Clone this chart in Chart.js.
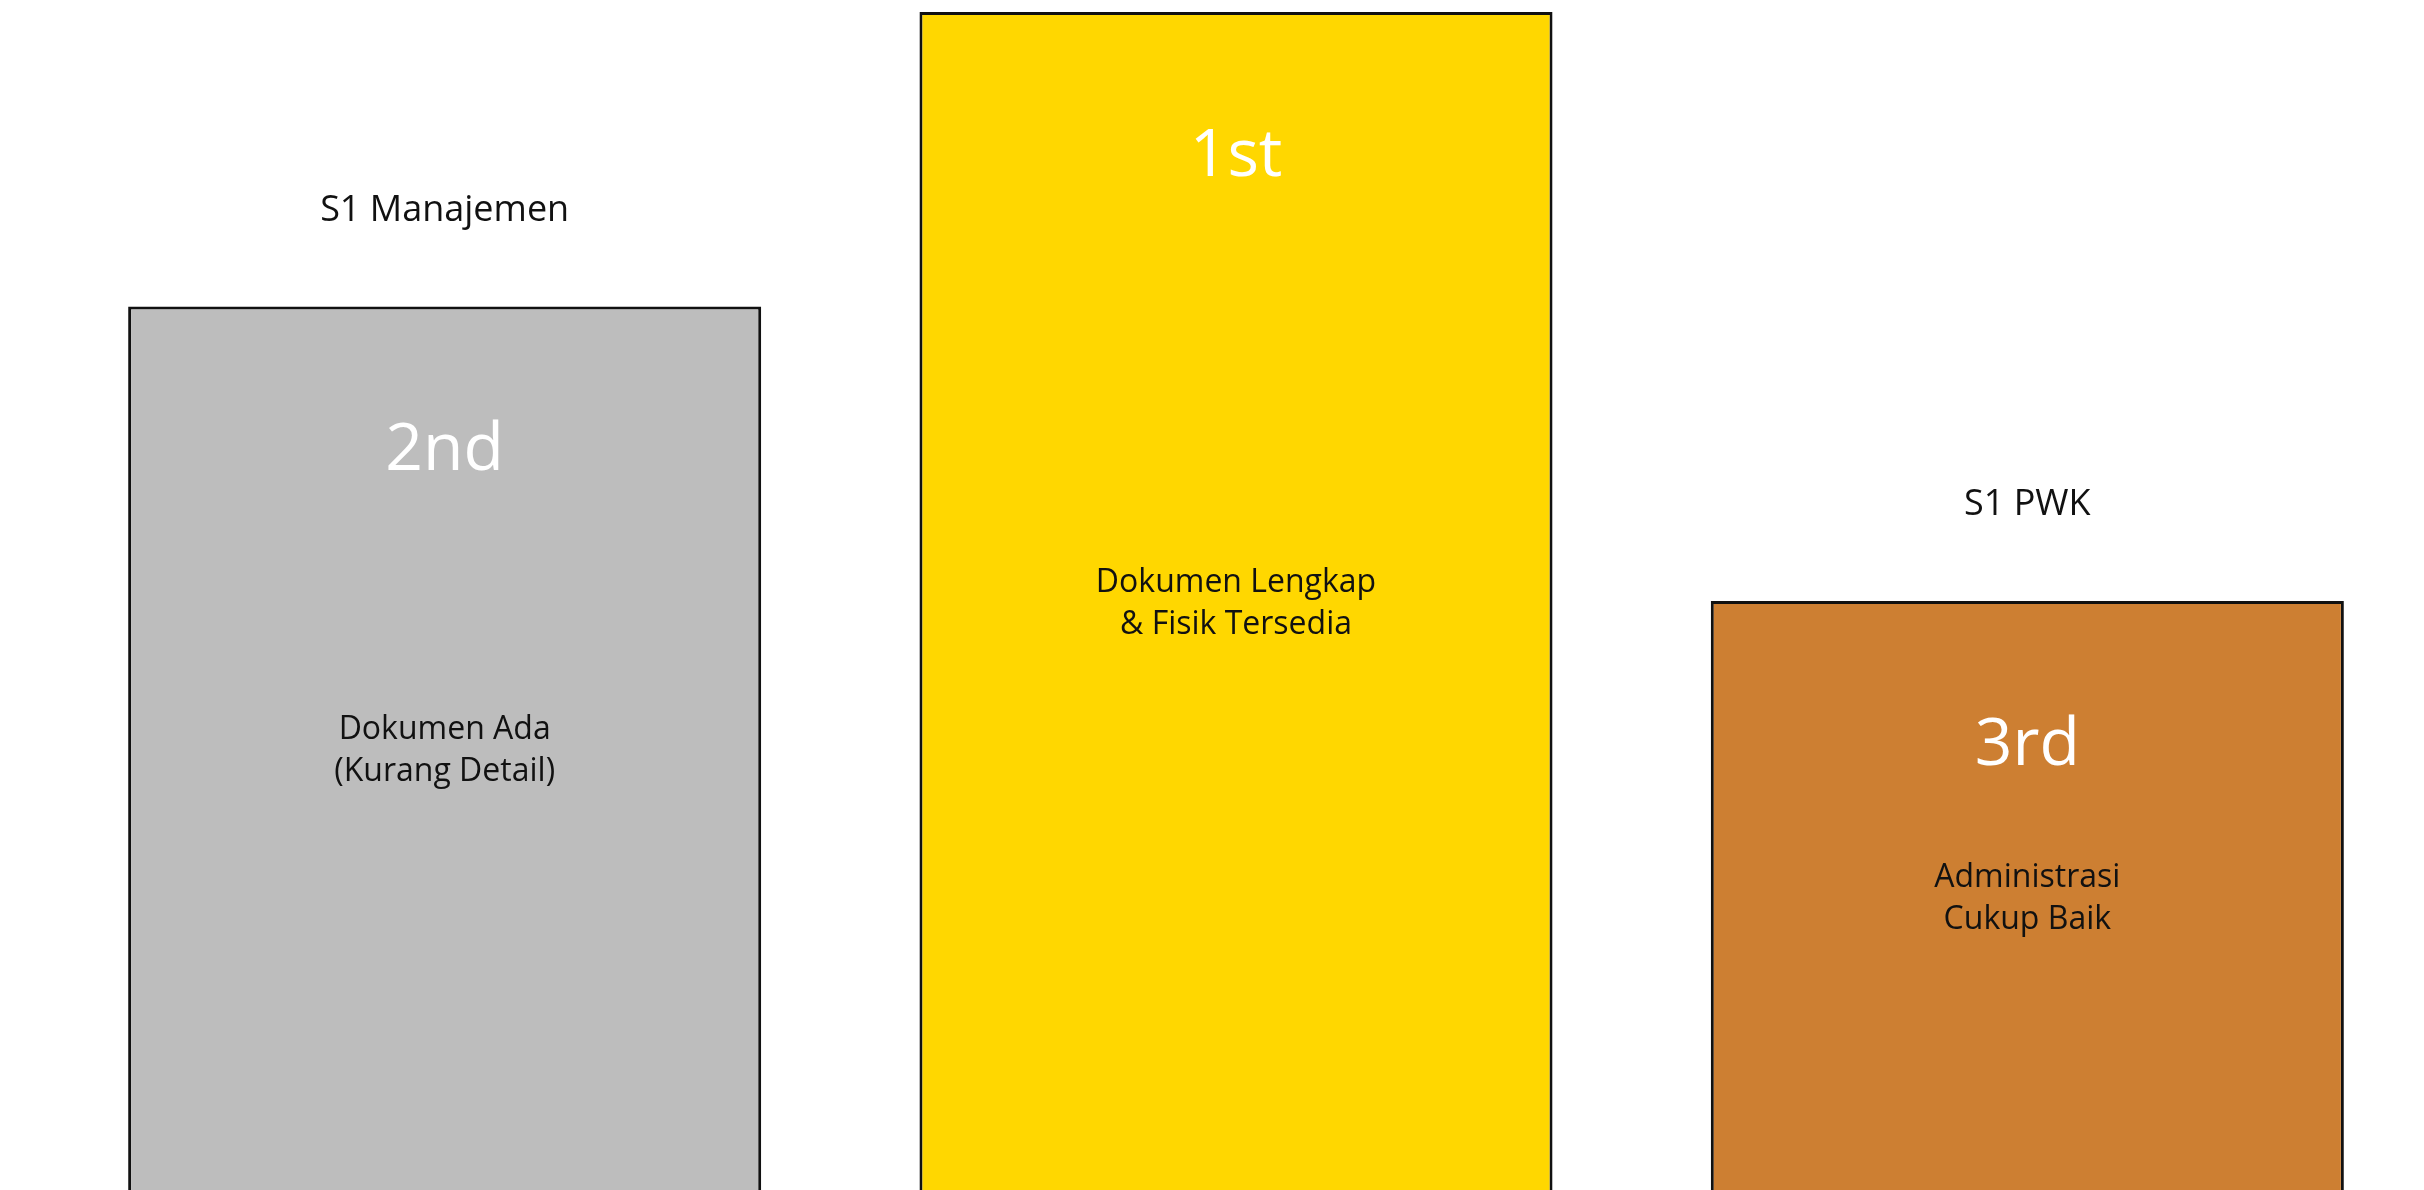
<!DOCTYPE html>
<html>
<head>
<meta charset="utf-8">
<script src="https://cdn.jsdelivr.net/npm/chart.js@4.4.1/dist/chart.umd.min.js"></script>
<style>
  html, body { margin: 0; padding: 0; background: #fff; }
  #wrap { width: 2424px; height: 1190px; }
</style>
</head>
<body>
<div id="wrap"><canvas id="podium"></canvas></div>
<script>
// podium data (left to right)
const programs = ['S1 Manajemen', '', 'S1 PWK'];
const ranks = ['2nd', '1st', '3rd'];
const heights = [3, 4, 2];
const notes = [
  ['Dokumen Ada', '(Kurang Detail)'],
  ['Dokumen Lengkap', '& Fisik Tersedia'],
  ['Administrasi', 'Cukup Baik']
];
const barColors = ['#BDBDBD', '#FFD700', '#CD7F32'];

const fontName = '"Open Sans", sans-serif';

// draws program name above, rank and note inside each bar
const podiumText = {
  id: 'podiumText',
  afterDatasetsDraw(chart) {
    const ctx = chart.ctx;
    const bars = chart.getDatasetMeta(0).data;
    ctx.save();
    ctx.textAlign = 'center';
    ctx.textBaseline = 'middle';
    bars.forEach((bar, i) => {
      if (programs[i]) {
        ctx.fillStyle = '#111';
        ctx.font = '36px ' + fontName;
        ctx.fillText(programs[i], bar.x, bar.y - 96);
      }
      ctx.fillStyle = '#fff';
      ctx.font = '66px ' + fontName;
      ctx.fillText(ranks[i], bar.x, bar.y + 145);

      ctx.fillStyle = '#111';
      ctx.font = '32px ' + fontName;
      const mid = (bar.y + bar.base) / 2;
      ctx.fillText(notes[i][0], bar.x, mid - 18);
      ctx.fillText(notes[i][1], bar.x, mid + 24);
    });
    ctx.restore();
  }
};

new Chart(document.getElementById('podium'), {
  type: 'bar',
  data: {
    labels: programs,
    datasets: [{
      data: heights,
      backgroundColor: barColors,
      borderColor: '#111',
      borderWidth: 3,
      barPercentage: 0.8,
      categoryPercentage: 1.0
    }]
  },
  options: {
    responsive: true,
    maintainAspectRatio: false,
    animation: false,
    layout: { padding: { top: 12, left: 49, right: 1, bottom: 0 } },
    scales: {
      x: { display: false },
      y: { display: false, min: 0, max: 4 }
    },
    plugins: {
      legend: { display: false },
      tooltip: { enabled: false }
    }
  },
  plugins: [podiumText]
});
</script>
</body>
</html>
